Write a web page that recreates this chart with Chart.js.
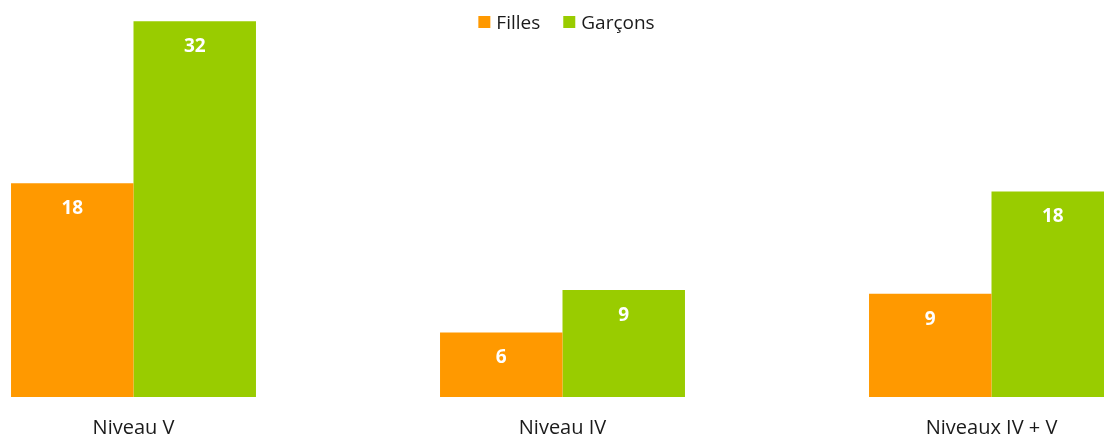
<!DOCTYPE html>
<html lang="fr">
<head>
<meta charset="utf-8">
<script src="https://cdn.jsdelivr.net/npm/chart.js@4.4.1/dist/chart.umd.min.js"></script>
<style>
  html, body { margin: 0; padding: 0; background: #fff; overflow: hidden; }
  body { width: 1104px; height: 434px; position: relative; }
  /* le graphique d'origine est rogné à gauche, à droite et en bas */
  #wrap { position: absolute; left: -81px; top: 0; width: 1287px; height: 459px; }
</style>
</head>
<body>
<div id="wrap"><canvas id="niveauxChart"></canvas></div>
<script>
const categories = ['Niveau V', 'Niveau IV', 'Niveaux IV + V'];
const filles = [18.2, 5.5, 8.8];
const garcons = [32, 9.1, 17.5];

// Étiquettes blanches en haut de chaque barre (valeurs arrondies)
const valueLabels = {
    id: 'valueLabels',
    afterDatasetsDraw(chart) {
        const ctx = chart.ctx;
        ctx.save();
        ctx.fillStyle = '#ffffff';
        ctx.font = 'bold 19px "Open Sans"';
        ctx.textAlign = 'center';
        ctx.textBaseline = 'alphabetic';
        chart.data.datasets.forEach(function(ds, i) {
            chart.getDatasetMeta(i).data.forEach(function(bar, j) {
                ctx.fillText(String(Math.round(ds.data[j])), bar.x, bar.y + 31);
            });
        });
        ctx.restore();
    }
};

// Légende posée par-dessus la zone du graphique (comme dans l'original)
const overlayLegend = {
    id: 'overlayLegend',
    afterDraw(chart) {
        const ctx = chart.ctx;
        const area = chart.chartArea;
        ctx.save();
        ctx.font = '19px "Open Sans"';
        ctx.textBaseline = 'alphabetic';
        const items = chart.data.datasets.map(function(ds) {
            return { text: ds.label, color: ds.backgroundColor, w: ctx.measureText(ds.label).width };
        });
        const gap = 23;
        let total = 0;
        items.forEach(function(it, k) { total += 12 + 6 + it.w + (k ? gap : 0); });
        let x = (area.left + area.right) / 2 - total / 2 + 4;
        items.forEach(function(it) {
            ctx.fillStyle = it.color;
            ctx.fillRect(x, 16, 12, 12);
            ctx.fillStyle = '#1a1a1a';
            ctx.fillText(it.text, x + 18, 28.5);
            x += 12 + 6 + it.w + gap;
        });
        ctx.restore();
    }
};

new Chart(document.getElementById('niveauxChart'), {
    type: 'bar',
    data: {
        labels: categories,
        datasets: [
            { label: 'Filles', data: filles, backgroundColor: '#FF9900', borderWidth: 0 },
            { label: 'Garçons', data: garcons, backgroundColor: '#99CC00', borderWidth: 0 }
        ]
    },
    options: {
        responsive: true,
        maintainAspectRatio: false,
        animation: false,
        layout: { padding: 0 },
        datasets: {
            bar: { categoryPercentage: 0.571, barPercentage: 1 }
        },
        plugins: {
            legend: { display: false },
            tooltip: { enabled: false }
        },
        scales: {
            x: {
                grid: { display: false, drawTicks: false },
                border: { display: false },
                ticks: {
                    padding: 23,
                    color: '#1a1a1a',
                    font: { family: 'Open Sans', size: 20, lineHeight: 0.8 }
                }
            },
            y: {
                display: false,
                min: 0,
                max: 33.8
            }
        }
    },
    plugins: [valueLabels, overlayLegend]
});
</script>
</body>
</html>
